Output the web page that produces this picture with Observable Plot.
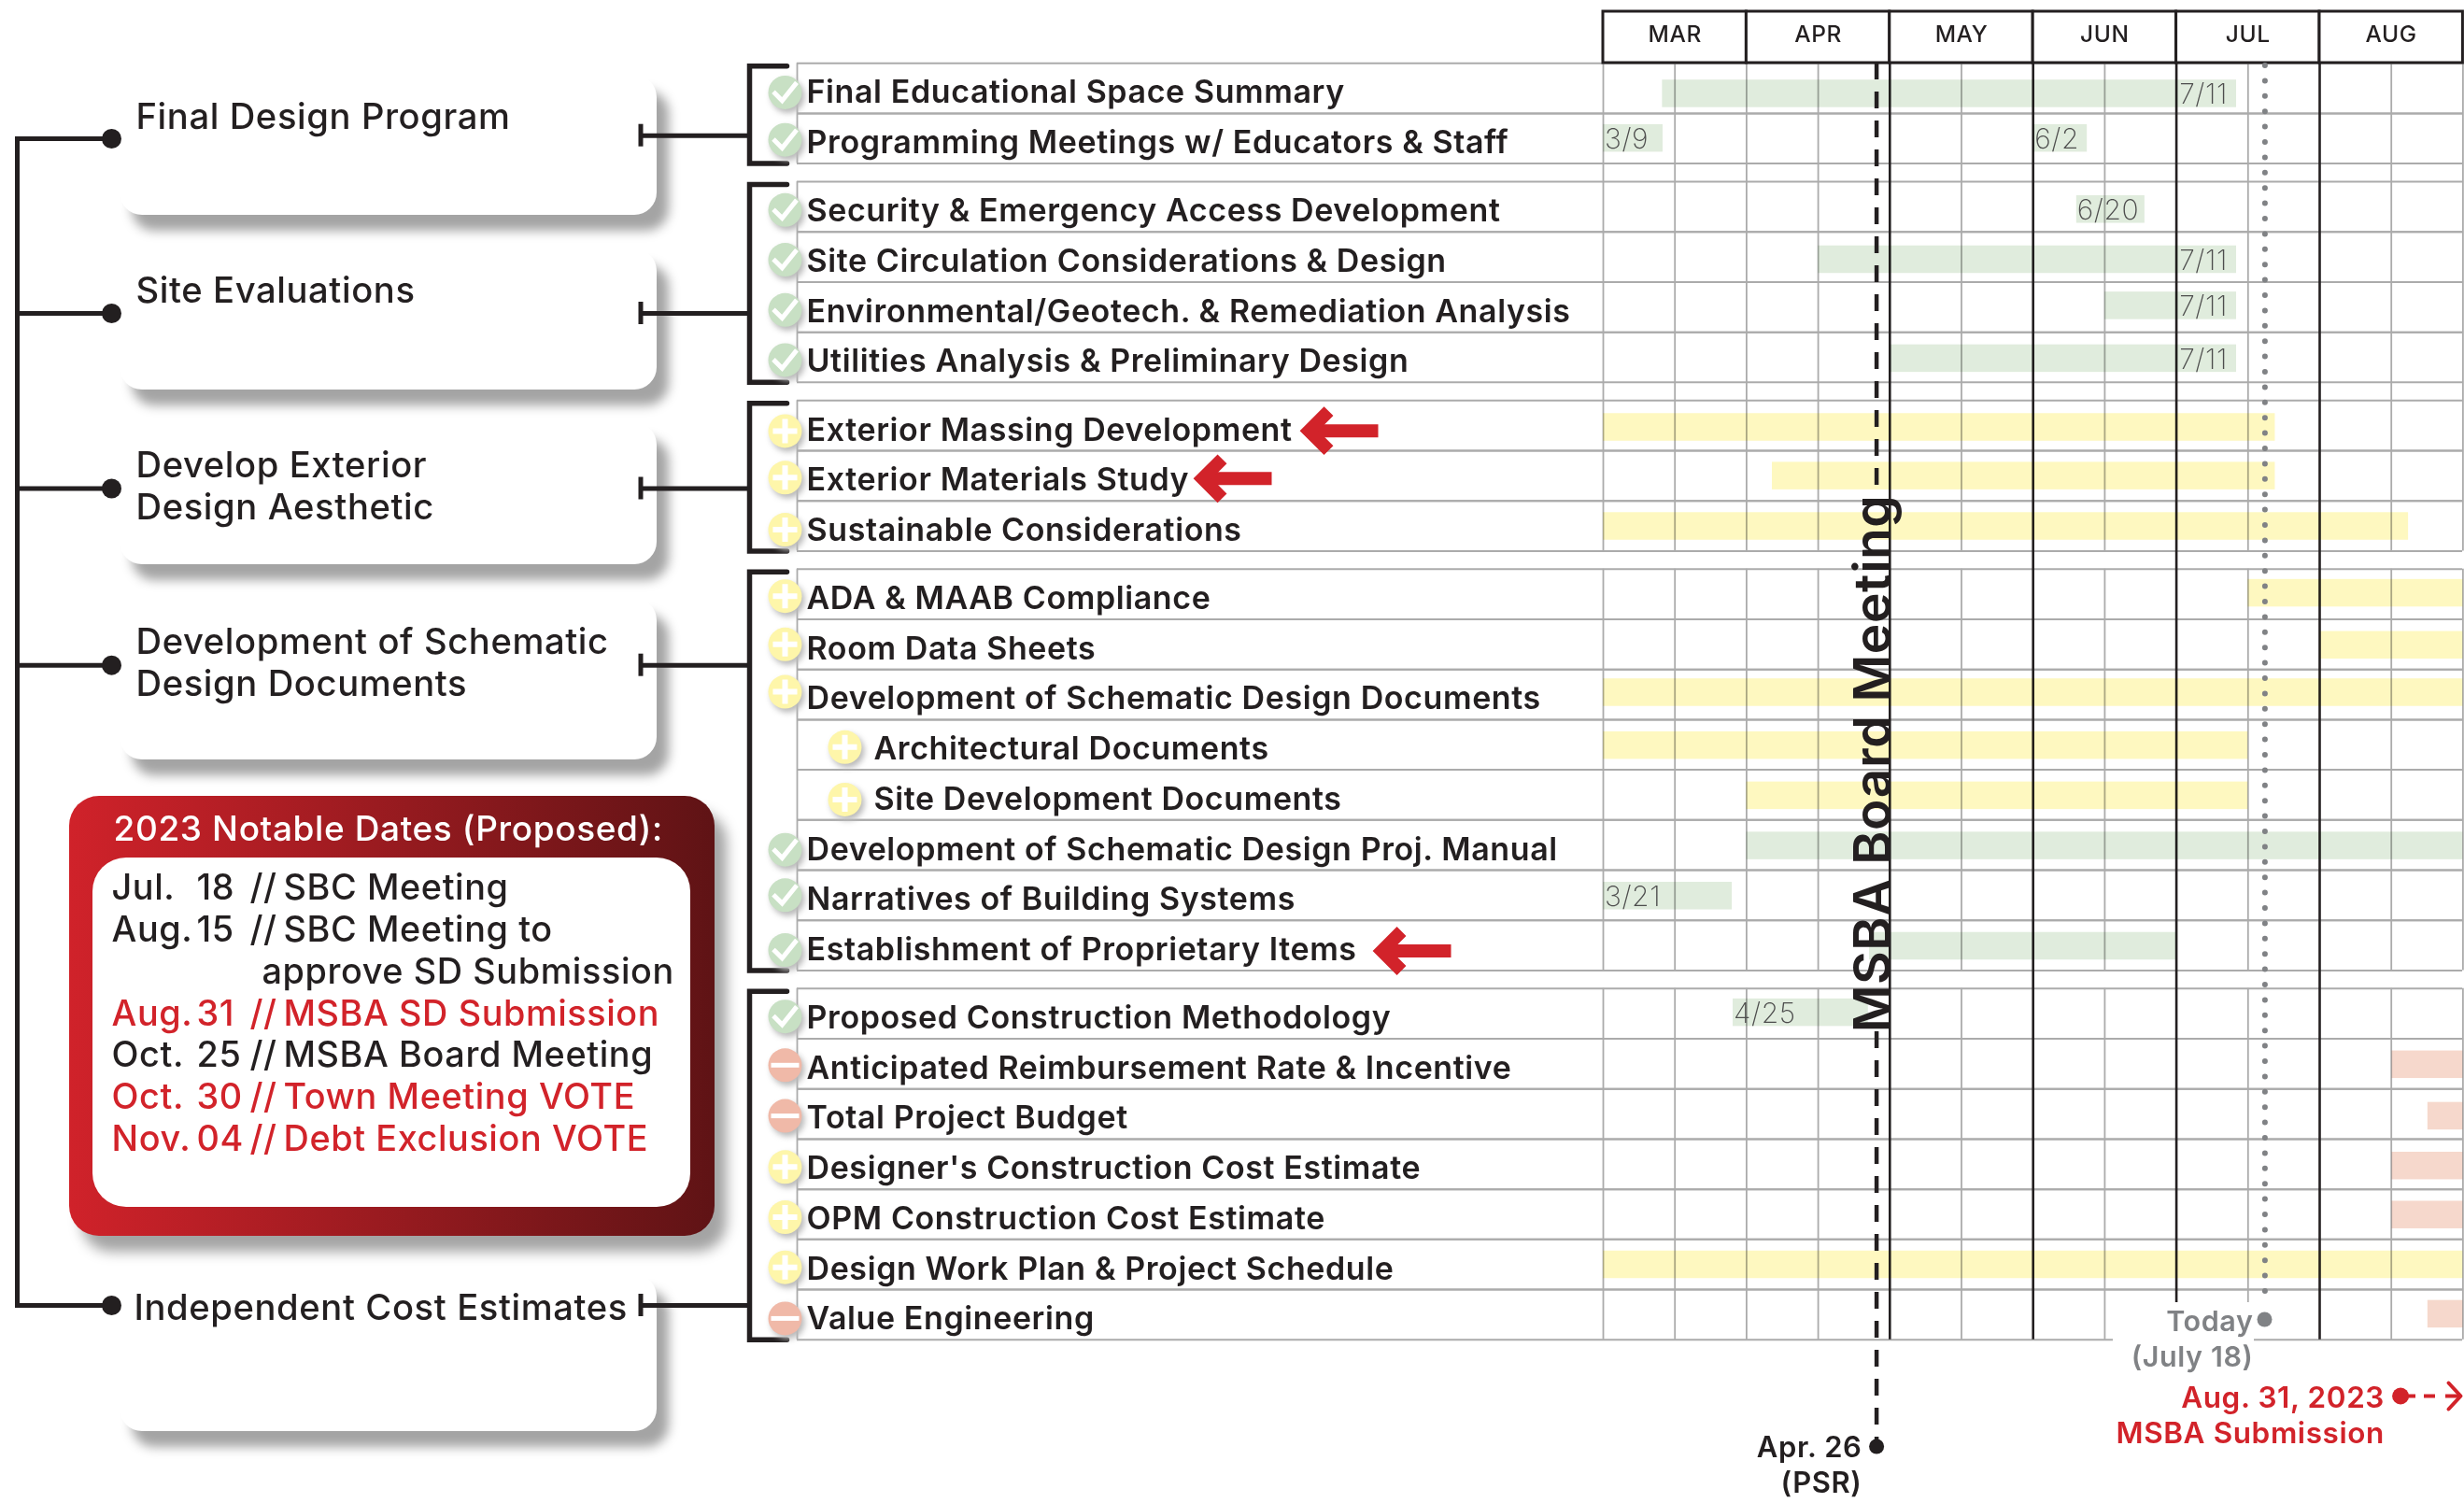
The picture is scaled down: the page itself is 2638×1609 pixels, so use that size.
<!DOCTYPE html>
<html><head><meta charset="utf-8">
<style>html,body{margin:0;padding:0;background:#fff}svg{display:block}</style>
<script src="https://cdn.jsdelivr.net/npm/d3@7"></script>
<script src="https://cdn.jsdelivr.net/npm/@observablehq/plot@0.6"></script>
</head><body><div id="chart"></div>
<script>
// ---- data ----
const months = ["MAR","APR","MAY","JUN","JUL","AUG"];
const groupSizes = [2,4,3,8,7];
const taskNames = ["Final Educational Space Summary","Programming Meetings w/ Educators & Staff",
"Security & Emergency Access Development","Site Circulation Considerations & Design","Environmental/Geotech. & Remediation Analysis","Utilities Analysis & Preliminary Design",
"Exterior Massing Development","Exterior Materials Study","Sustainable Considerations",
"ADA & MAAB Compliance","Room Data Sheets","Development of Schematic Design Documents","Architectural Documents","Site Development Documents","Development of Schematic Design Proj. Manual","Narratives of Building Systems","Establishment of Proprietary Items",
"Proposed Construction Methodology","Anticipated Reimbursement Rate & Incentive","Total Project Budget","Designer's Construction Cost Estimate","OPM Construction Cost Estimate","Design Work Plan & Project Schedule","Value Engineering"];
const taskStatus = ["done","done","done","done","done","done","open","open","open","open","open","open","open","open","done","done","done","done","hold","hold","open","open","open","hold"];
const indentedTasks = [12,13];
// bars: row, start and end in months counted from March 1, tone
const barRow  = [0,1,1,2,3,4,5,6,7,8,9,10,11,12,13,14,15,16,17,18,19,20,21,22,23];
const barFrom = [.413,0,3,3.304,1.5,3.5,2,0,1.18,0,4.5,5,0,0,1,1,0,1.858,.906,5.505,5.755,5.505,5.505,0,5.755];
const barTo   = [4.42,.417,3.378,3.78,4.42,4.42,4.42,4.69,4.69,5.62,6,6,6,4.5,4.5,6,.9,4,1.85,6,6,6,6,6,6];
const barTone = ["g","g","g","g","g","g","g","y","y","y","y","y","y","y","y","g","g","g","g","p","p","p","p","y","p"];
const dateRow   = [0,1,1,2,3,4,5,15,17];
const dateText  = ["7/11","3/9","6/2","6/20","7/11","7/11","7/11","3/21","4/25"];
const dateAt    = [4.02,.01,3.01,3.306,4.02,4.02,4.02,.01,.91];
const flaggedRows = [6,7,16];
const cardTitles = ["Final Design Program","Site Evaluations","Develop Exterior\nDesign Aesthetic","Development of Schematic\nDesign Documents","Independent Cost Estimates"];
const noteTitle = "2023 Notable Dates (Proposed):";
const noteMonth = ["Jul.","Aug.","","Aug.","Oct.","Oct.","Nov."];
const noteDay   = ["18","15","","31","25","30","04"];
const noteWhat  = ["SBC Meeting","SBC Meeting to","approve SD Submission","MSBA SD Submission","MSBA Board Meeting","Town Meeting VOTE","Debt Exclusion VOTE"];
const noteHot   = [false,false,false,true,false,true,true];

// ---- layout (page pixels) ----
const W=2638,H=1609,x0=1716,mPx=153.4,y0=67.2,rPx=53.7,gap=.362;
const X=p=>(p-x0)/mPx, Y=p=>(p-y0)/rPx;
const FONT="Inter", INK="#231f20", RED="#d2232a", GRID="#ababab", GREY="#808285";
const TRACK=".06em";
const rowGroup=[]; groupSizes.forEach((n,g)=>{for(let i=0;i<n;i++)rowGroup.push(g)});
const rowTop=i=>i+rowGroup[i]*gap;
const bounds=[]; {let s=0; groupSizes.forEach((n,g)=>{bounds.push({t:s+g*gap,b:s+n+g*gap}); s+=n;});}
const barTopPx=[18,12,15,15,10.7,13.5,14,12.4,12.6,11,13,10,13,13,13,13,13,11,13,14.4,14,12.8,12.4,11.6];
const iconNudge=[4.4,1.4,3.4,3,3,3,5.8,2,4,2,0,-3,2.5,5,5,0,5,3,1.4,2,3,3,3,4];
const textNudge=5;
const toneFill={g:"#e0ecdd",y:"#fef8c0",p:"#f6d8cc"};
const iconFill={done:"#c8e0c4",open:"#fef6aa",hold:"#f0b9a8"};

const bars=barRow.map((r,i)=>({r,a:barFrom[i],b:barTo[i],f:toneFill[barTone[i]]}));
const tasks=taskNames.map((label,i)=>({label,i,st:taskStatus[i],ind:indentedTasks.includes(i),
  y:rowTop(i)+.5, iy:rowTop(i)+.5+iconNudge[i]/rPx, ty:rowTop(i)+.5+textNudge/rPx}));
const rowLines=[]; taskNames.forEach((_,i)=>{rowLines.push(rowTop(i)); rowLines.push(rowTop(i)+1)});
const halves=d3.range(0,6.01,.5).filter(m=>![2,3,4,5].includes(m));
const spans=[[bounds[0].t,bounds[2].b],[bounds[3].t,bounds[3].b],[bounds[4].t,bounds[4].b]];
const gridV=spans.flatMap(([t,b])=>halves.map(m=>({m,t,b})));
const edgeV=bounds.map(b=>({t:b.t,b:b.b}));

const tick={draw(c,s){const r=Math.sqrt(s/Math.PI);c.moveTo(-r,-.05*r);c.lineTo(-.25*r,.7*r);c.lineTo(r,-.85*r);}};
const cross={draw(c,s){const r=Math.sqrt(s/Math.PI);c.moveTo(-r,0);c.lineTo(r,0);c.moveTo(0,-r);c.lineTo(0,r);}};
const dash={draw(c,s){const r=Math.sqrt(s/Math.PI);c.moveTo(-r,0);c.lineTo(r,0);}};

const cards=[[80,230],[266,417],[452,604],[640,813],[1364,1532]].map(([a,b],i)=>({a:Y(a),b:Y(b),t:cardTitles[i]}));
const cardText=[[123,145],[309,145],[518.5,145],[708,145],[1398.5,143]];
const spineY=[148,335,522.5,711.7,1397], stubY=[144.7,335,522.5,711.7,1397];
const bracket=bounds.map((b,g)=>{const t=y0+b.t*rPx+3,e=y0+b.b*rPx;return [[842,t],[802,t],[802,e],[842,e]].map(p=>({x:X(p[0]),y:Y(p[1]),g}))}).flat();
const arrowTip=[1391,1277,1469], arrowDy=[5.5,3,6];
const arrows=flaggedRows.flatMap((r,k)=>{const t=arrowTip[k],cy=y0+(rowTop(r)+.5)*rPx+arrowDy[k];
  return [{x:X(t+10),y:Y(cy),z:"s"+k},{x:X(t+84),y:Y(cy),z:"s"+k},
          {x:X(t+31),y:Y(cy-21),z:"h"+k},{x:X(t+10),y:Y(cy),z:"h"+k},{x:X(t+31),y:Y(cy+21),z:"h"+k}];});

const tx=(data,o)=>Plot.text(data,{fontFamily:FONT,textAnchor:"start",lineAnchor:"middle",fill:INK,fontWeight:500,...o});
const px=(xp,yp,extra={})=>({x:X(xp),y:Y(yp),...extra});

const gradient=()=>{const s=d3.create("svg:defs");const g=s.append("linearGradient").attr("id","noteGrad");
  g.append("stop").attr("offset","0").attr("stop-color","#d0222a");g.append("stop").attr("offset","1").attr("stop-color","#5f1315");return s.node();};

const noteY=[950,995.6,1040,1085,1129.5,1174,1219.6];
const noteRows=noteWhat.map((w,i)=>({m:noteMonth[i],d:noteDay[i],w,f:noteHot[i]?RED:INK,y:Y(noteY[i])}));

const plot=Plot.plot({
  width:W,height:H,margin:0,style:{background:"#fff",letterSpacing:TRACK},
  x:{type:"linear",domain:[X(0),X(W)],range:[0,W],axis:null},
  y:{type:"linear",domain:[Y(0),Y(H)],range:[0,H],axis:null},
  marks:[
    gradient,
    // left panel
    Plot.line([[18,148],[18,1397]].map(p=>px(p[0],p[1])),{x:"x",y:"y",stroke:INK,strokeWidth:5}),
    Plot.ruleY(spineY,{y:d=>Y(d),x1:X(16),x2:X(119),stroke:INK,strokeWidth:5}),
    Plot.rect(cards,{x1:X(128),x2:X(703),y1:"a",y2:"b",fill:"#fff",rx:24,imageFilter:"drop-shadow(13px 17px 6px #a4a4a4)"}),
    Plot.dot(spineY,{x:X(119),y:d=>Y(d),r:10.5,fill:INK}),
    tx(cardTitles.map((t,i)=>({t,x:X(cardText[i][1]),y:Y(cardText[i][0])})),{x:"x",y:"y",text:"t",fontSize:38.2,lineHeight:1.18}),
    Plot.ruleY(stubY,{y:d=>Y(d),x1:X(685),x2:X(802),stroke:INK,strokeWidth:5}),
    Plot.ruleX(stubY,{x:X(685.5),y1:d=>Y(d-12),y2:d=>Y(d+12),stroke:INK,strokeWidth:5}),
    // note box
    Plot.rect([0],{x1:X(74),x2:X(765),y1:Y(852),y2:Y(1323),fill:"url(#noteGrad)",rx:32,imageFilter:"drop-shadow(13px 17px 7px #a4a4a4)"}),
    Plot.rect([0],{x1:X(99),x2:X(739),y1:Y(918),y2:Y(1292),fill:"#fff",rx:36}),
    tx([noteTitle],{x:X(121),y:Y(888),text:d=>d,fill:"#fff",fontSize:37}),
    tx(noteRows,{x:X(119),y:"y",text:"m",fill:"f",fontSize:37.8}),
    tx(noteRows,{x:X(210),y:"y",text:"d",fill:"f",fontSize:37.8}),
    tx(noteRows.filter(d=>d.m),{x:X(267),y:"y",text:()=>"//",fill:"f",fontSize:37.8}),
    tx(noteRows,{x:d=>X(d.m?303:280),y:"y",text:"w",fill:"f",fontSize:37.8}),
    // gantt grid
    Plot.ruleX(gridV,{x:"m",y1:"t",y2:"b",stroke:GRID,strokeWidth:1.8}),
    Plot.ruleX(edgeV,{x:X(853),y1:"t",y2:"b",stroke:GRID,strokeWidth:1.8}),
    Plot.ruleY(rowLines,{y:d=>d,x1:X(853),x2:X(2636),stroke:GRID,strokeWidth:2}),
    Plot.rect(months,{x1:(d,i)=>i,x2:(d,i)=>i+1,y1:Y(12),y2:Y(67),fill:"#fff",stroke:INK,strokeWidth:3}),
    tx(months,{x:(d,i)=>i+.5,y:Y(37),text:d=>d,textAnchor:"middle",fontSize:24.5,fontWeight:500}),
    Plot.ruleX([2,3,5],{x:d=>d,y1:Y(67),y2:bounds[4].b,stroke:INK,strokeWidth:2.6}),
    Plot.ruleX([4],{x:d=>d,y1:Y(67),y2:Y(1394),stroke:INK,strokeWidth:2.6}),
    Plot.rect([0],{x1:X(2262),x2:X(2413),y1:Y(1394),y2:Y(1442),fill:"#fff"}),
    // bars
    Plot.rect(bars,{x1:"a",x2:"b",y1:d=>rowTop(d.r)+barTopPx[d.r]/rPx,y2:d=>rowTop(d.r)+(barTopPx[d.r]+29.5)/rPx,fill:"f",mixBlendMode:"multiply"}),
    tx(dateRow.map((r,i)=>({x:dateAt[i],y:rowTop(r)+(barTopPx[r]+16)/rPx,t:dateText[i]})),{x:"x",y:"y",text:"t",fontSize:30,fontWeight:200,fill:"#4d4d4d"}),
    // markers
    Plot.ruleX([0],{x:X(2424.4),y1:Y(70),y2:Y(1395),stroke:GREY,strokeWidth:6,strokeDasharray:"0 16.4",strokeLinecap:"round"}),
    Plot.ruleX([[67,520],[1104,1548]],{x:X(2008.6),y1:d=>Y(d[0]),y2:d=>Y(d[1]),stroke:INK,strokeWidth:4.5,strokeDasharray:"18 13"}),
    Plot.dot([0],{x:X(2008.6),y:Y(1548),r:8,fill:INK}),
    Plot.dot([0],{x:X(2424),y:Y(1412),r:8,fill:GREY}),
    Plot.dot([0],{x:X(2569.6),y:Y(1494),r:9,fill:RED}),
    Plot.ruleY([[2570,2586],[2595,2607]],{y:Y(1494),x1:d=>X(d[0]),x2:d=>X(d[1]),stroke:RED,strokeWidth:4}),
    Plot.line([[2621,1480],[2634,1494],[2621,1508]].map(p=>px(p[0],p[1])),{x:"x",y:"y",stroke:RED,strokeWidth:4,strokeMiterlimit:4}),
    Plot.ruleY([0],{y:Y(1494),x1:X(2618),x2:X(2632),stroke:RED,strokeWidth:4}),
    tx(["MSBA Board Meeting"],{x:X(2005.5),y:Y(817),text:d=>d,textAnchor:"middle",rotate:-90,fontSize:55,fontWeight:600}),
    // brackets
    Plot.line(bracket,{x:"x",y:"y",z:"g",stroke:INK,strokeWidth:5.5,strokeLinejoin:"miter",strokeMiterlimit:4}),
    // status icons
    Plot.dot(tasks,{x:d=>X(d.ind?904:840),y:"iy",r:18,fill:d=>iconFill[d.st],imageFilter:"drop-shadow(3px 4px 3px #b9b9b9)"}),
    Plot.dot(tasks.filter(d=>d.st==="done"),{x:d=>X(d.ind?904:840),y:"iy",r:12.5,symbol:tick,fill:"none",stroke:"#fff",strokeWidth:5}),
    Plot.dot(tasks.filter(d=>d.st==="open"),{x:d=>X(d.ind?904:840),y:"iy",r:13,symbol:cross,fill:"none",stroke:"#fff",strokeWidth:6}),
    Plot.dot(tasks.filter(d=>d.st==="hold"),{x:d=>X(d.ind?904:840),y:"iy",r:15,symbol:dash,fill:"none",stroke:"#fff",strokeWidth:5}),
    tx(tasks,{x:d=>X(d.ind?935:863),y:"ty",text:"label",fontSize:34,fontWeight:600}),
    Plot.line(arrows,{x:"x",y:"y",z:"z",stroke:RED,strokeWidth:14,strokeLinejoin:"miter",strokeMiterlimit:4,strokeLinecap:"butt"}),
    // footnotes
    tx(["Today","(July 18)"],{x:X(2412),y:(d,i)=>Y(i?1453:1415),text:d=>d,textAnchor:"end",fill:GREY,fontSize:30.5,fontWeight:600}),
    tx(["Apr. 26","(PSR)"],{x:X(1993),y:(d,i)=>Y(i?1588:1550),text:d=>d,textAnchor:"end",fontSize:31,fontWeight:600}),
    tx(["Aug. 31, 2023","MSBA Submission"],{x:X(2552.5),y:(d,i)=>Y(i?1534:1496),text:d=>d,textAnchor:"end",fill:RED,fontSize:31.5,fontWeight:600})
  ]
});
document.getElementById("chart").append(plot);
</script></body></html>
